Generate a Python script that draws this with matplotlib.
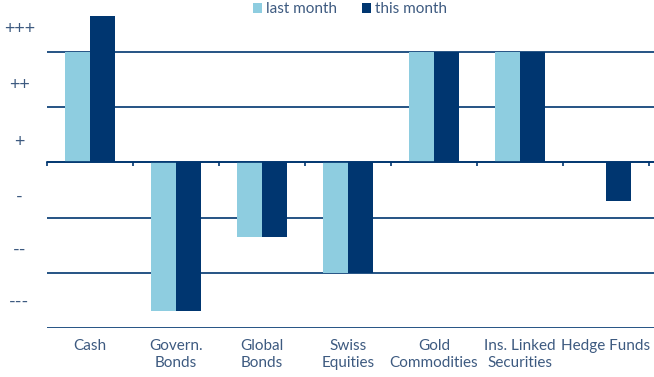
import matplotlib.pyplot as plt
import numpy as np

categories = ["Cash", "Govern.\nBonds", "Global\nBonds", "Swiss\nEquities",
              "Gold\nCommodities", "Ins. Linked\nSecurities", "Hedge Funds"]
last_month = [2, -2.7, -1.35, -2, 2, 2, 0]
this_month = [3, -2.7, -1.35, -2, 2, 2, -0.7]
score_labels = ["+++", "++", "+", "-", "--", "---"]

light = "#8ECDE0"
dark = "#003670"
txt = "#3D5A80"

plt.rcParams['font.family'] = ['Lato', 'DejaVu Sans']

fig = plt.figure(figsize=(6.54, 3.77), dpi=100)
ax = fig.add_axes([47/654, 1-328/377, 1-47/654, (328-16)/377])

x = np.arange(len(categories))
w = 0.29
ax.bar(x - w/2, last_month, w, color=light, label="last month", zorder=3)
ax.bar(x + w/2, this_month, w, color=dark, label="this month", zorder=3)

ax.set_xlim(-0.5, 6.56)
ax.set_ylim(-3, 2.65)

for s in ax.spines.values():
    s.set_visible(False)

# grid on integer levels, labels in between
ax.set_yticks(range(-3, 3), minor=True)
ax.grid(which='minor', axis='y', color=dark, lw=1.2, zorder=1)
ax.set_yticks([2.45, 1.42, 0.4, -0.6, -1.55, -2.5])
ax.set_yticklabels(score_labels, color=txt, fontsize=13, ha='center')
ax.tick_params(axis='y', which='both', length=0, pad=20)

ax.set_xticks(x)
ax.set_xticklabels(categories, color=txt, fontsize=11, linespacing=1.3, va='top')
ax.tick_params(axis='x', length=0, pad=8)

# zero line with category separators
sec = ax.secondary_xaxis(0, transform=ax.transData)
sec.set_xticks(np.arange(-0.5, 7, 1))
sec.set_xticklabels([])
sec.tick_params(length=3, width=1.2, color=dark)
sec.spines['bottom'].set_color(dark)
sec.spines['bottom'].set_linewidth(1.2)
sec.set_zorder(4)

fig.legend(loc='upper center', bbox_to_anchor=(0.535, 1.03), ncol=2, frameon=False,
           handlelength=0.6, handleheight=0.6, handletextpad=0.25, columnspacing=1.6,
           fontsize=11, labelcolor=txt)

fig.savefig("out.png", dpi=100)
